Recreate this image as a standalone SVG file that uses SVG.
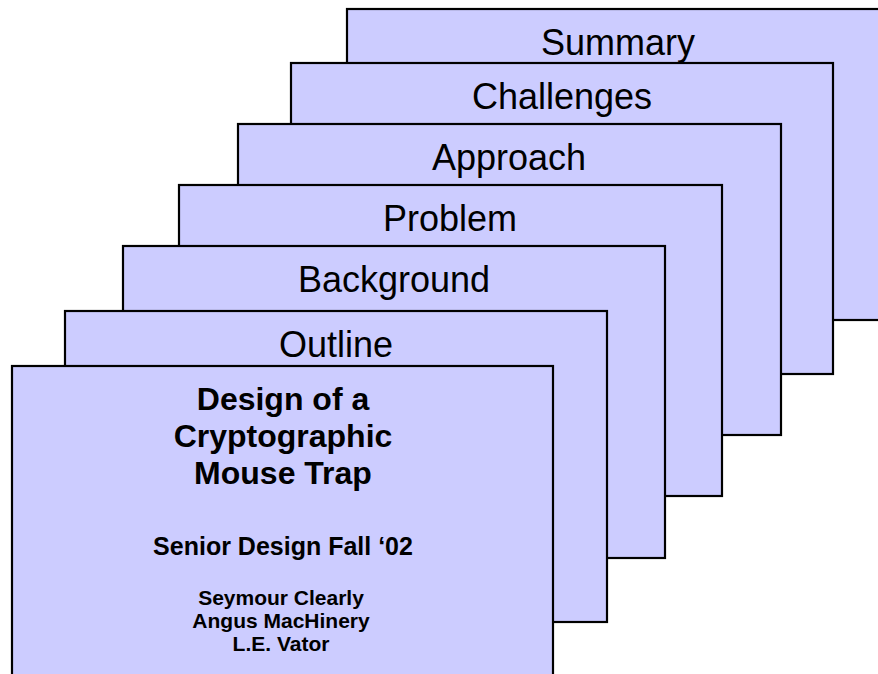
<svg xmlns="http://www.w3.org/2000/svg" width="878" height="674" viewBox="0 0 878 674">
<style>
.card{fill:#CCCCFF;stroke:#000;stroke-width:2.2}
.h{font-family:"Liberation Sans",Arial,sans-serif;font-size:36px;fill:#000;text-anchor:middle}
.b{font-family:"Liberation Sans",Arial,sans-serif;font-weight:bold;fill:#000;text-anchor:middle}
</style>
<rect width="878" height="674" fill="#fff"/>
<g id="summary"><rect class="card" x="347" y="9" width="542" height="311"/><text class="h" x="618" y="55">Summary</text></g>
<g id="challenges"><rect class="card" x="291" y="63" width="542" height="311"/><text class="h" x="562" y="109">Challenges</text></g>
<g id="approach"><rect class="card" x="238" y="124" width="543" height="311"/><text class="h" x="509" y="170">Approach</text></g>
<g id="problem"><rect class="card" x="179" y="185" width="543" height="311"/><text class="h" x="450" y="231">Problem</text></g>
<g id="background"><rect class="card" x="123" y="246" width="542" height="312"/><text class="h" x="394" y="292">Background</text></g>
<g id="outline"><rect class="card" x="65" y="311" width="542" height="311"/><text class="h" x="336" y="357">Outline</text></g>
<g id="title"><rect class="card" x="12" y="366" width="541" height="320"/>
<text class="b" font-size="32" x="283" y="410">Design of a</text>
<text class="b" font-size="32" x="283" y="447">Cryptographic</text>
<text class="b" font-size="32" x="283" y="484">Mouse Trap</text>
<text class="b" font-size="25" x="283" y="555">Senior Design Fall ‘02</text>
<text class="b" font-size="21" x="281" y="605">Seymour Clearly</text>
<text class="b" font-size="21" x="281" y="628">Angus MacHinery</text>
<text class="b" font-size="21" x="281" y="651">L.E. Vator</text>
</g>
<g id="connectors"/>
</svg>
